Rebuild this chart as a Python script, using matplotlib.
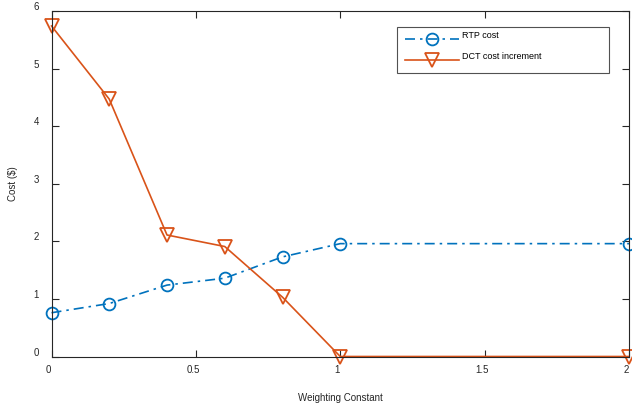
import matplotlib.pyplot as plt
import matplotlib.transforms as mtransforms

plt.rcParams['font.family'] = ['Liberation Sans', 'DejaVu Sans']

# Weighting constant sweep and resulting costs
weights = [0, 0.2, 0.4, 0.6, 0.8, 1.0, 2.0]
rtp_cost = [0.76, 0.92, 1.24, 1.36, 1.73, 1.96, 1.96]
dct_increment = [5.74, 4.47, 2.11, 1.91, 1.03, 0.0, 0.0]

x_ticks = [0, 0.5, 1, 1.5, 2]
x_tick_labels = ['0', '0.5', '1', '1.5', '2']
y_ticks = [0, 1, 2, 3, 4, 5, 6]

blue = '#0072BD'
orange = '#D95319'
axis_grey = '#262626'

fig = plt.figure(figsize=(6.32, 4.09), dpi=100)
ax_l, ax_r, ax_t, ax_b = 51.5, 629, 11, 356.5
ax = fig.add_axes([ax_l / 632, 1 - ax_b / 409, (ax_r - ax_l) / 632, (ax_b - ax_t) / 409])

ax.plot(weights, rtp_cost, color=blue, linestyle=(0, (6, 3, 1.5, 3)), linewidth=1.2,
        marker='o', markersize=8.5, markerfacecolor='none',
        markeredgewidth=1.3, label='RTP cost', clip_on=False)
ax.plot(weights, dct_increment, color=orange, linestyle='-', linewidth=1.2,
        marker='v', markersize=10, markerfacecolor='none',
        markeredgewidth=1.3, label='DCT cost increment', clip_on=False)

ax.set_xlim(0, 2)
ax.set_ylim(0, 6)
ax.set_xticks(x_ticks)
ax.set_xticklabels(x_tick_labels)
ax.set_yticks(y_ticks)

ax.tick_params(direction='in', length=5, width=0.8, colors=axis_grey,
               labelsize=7, top=True, right=True)
ax.tick_params(axis='x', pad=6)
ax.tick_params(axis='y', pad=9)
for spine in ax.spines.values():
    spine.set_color(axis_grey)
    spine.set_linewidth(0.8)

# nudge tick labels the way the original renderer placed them
shift_x = mtransforms.ScaledTranslation(-3 / 100, 0, fig.dpi_scale_trans)
shift_y = mtransforms.ScaledTranslation(0, 5 / 100, fig.dpi_scale_trans)
for lbl in ax.get_xticklabels():
    lbl.set_transform(lbl.get_transform() + shift_x)
for lbl in ax.get_yticklabels():
    lbl.set_transform(lbl.get_transform() + shift_y)

ax.set_xlabel('Weighting Constant', fontsize=7, color=axis_grey, labelpad=13)
ax.set_ylabel('Cost ($)', fontsize=7, color=axis_grey, labelpad=11)

# legend box spans roughly x 397..609, y 27..72 in pixels
w_ax = ax_r - ax_l
h_ax = ax_b - ax_t
leg = ax.legend(loc='upper left', mode='expand',
                bbox_to_anchor=((397 - ax_l) / w_ax, 1 - (72 - ax_t) / h_ax,
                                (609 - 397) / w_ax, (72 - 27) / h_ax),
                fontsize=6.5, frameon=True, fancybox=False, borderpad=0.85,
                handlelength=6.0, labelspacing=1.35, handletextpad=0.4,
                borderaxespad=0)
leg.get_frame().set_edgecolor(axis_grey)
leg.get_frame().set_linewidth(0.8)
raise_txt = mtransforms.ScaledTranslation(0, 4 / 100, fig.dpi_scale_trans)
for txt in leg.get_texts():
    txt.set_transform(txt.get_transform() + raise_txt)

fig.savefig('out.png', dpi=100)
